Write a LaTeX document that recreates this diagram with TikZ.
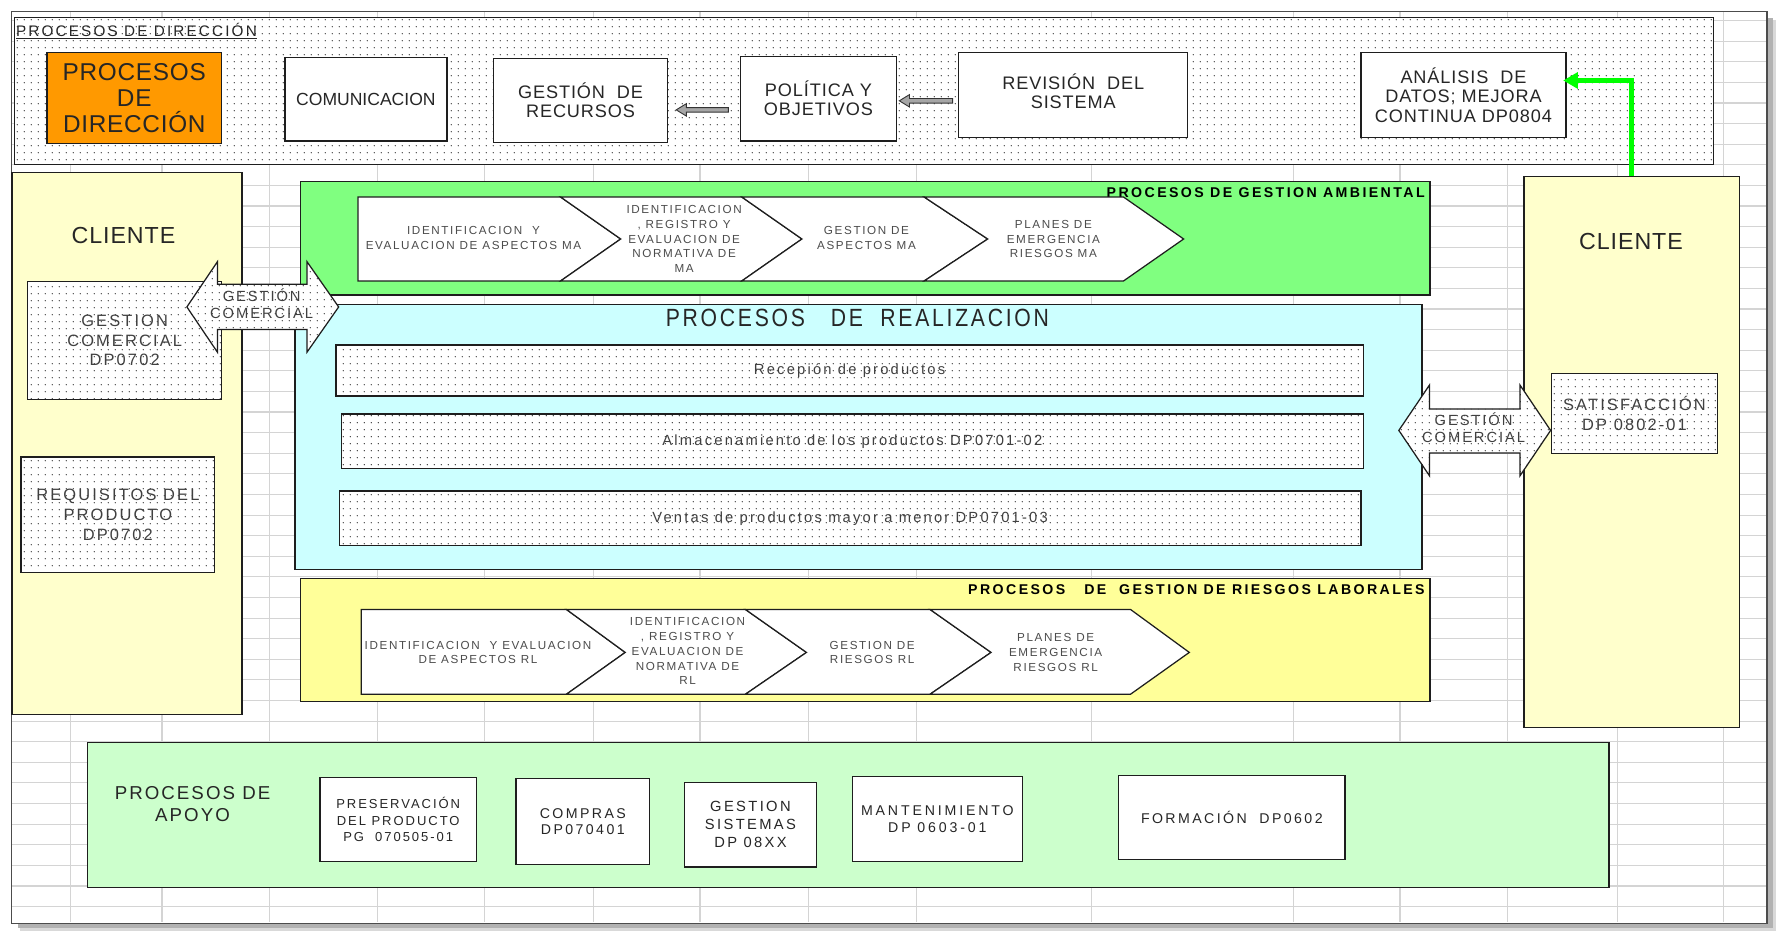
\documentclass[tikz,border=0pt]{standalone}
\usepackage{fontspec}
\setmainfont{Liberation Sans}
\newfontfamily\condensed[FakeStretch=0.85]{Liberation Sans}
\usetikzlibrary{patterns,arrows.meta,calc}

\definecolor{inkline}{RGB}{30,30,30}
\definecolor{gridgray}{RGB}{212,212,212}
\definecolor{dirorange}{RGB}{255,153,0}
\definecolor{clientyellow}{RGB}{255,255,204}
\definecolor{ambgreen}{RGB}{128,255,128}
\definecolor{realcyan}{RGB}{204,255,255}
\definecolor{riskyellow}{RGB}{255,255,153}
\definecolor{supportgreen}{RGB}{204,255,204}
\definecolor{brightgreen}{RGB}{0,255,0}

% sparse dot screen used for the stippled areas
\pgfdeclarepatternformonly{sparsedots}{\pgfpointorigin}{\pgfpoint{6.4pt}{6.4pt}}{\pgfpoint{6.4pt}{6.4pt}}{%
  \pgfpathcircle{\pgfpoint{3.2pt}{3.2pt}}{0.62pt}\pgfusepath{fill}}

% size, baseline skip, letter spacing
\newcommand\fs[3]{\fontsize{#1}{#2}\selectfont\addfontfeature{LetterSpace=#3}}

\begin{document}
\begin{tikzpicture}[x=1pt,y=-1pt,
  ink/.style={draw=inkline,line width=1.1pt},
  plainbox/.style={ink,anchor=north west,inner sep=0pt,align=center},
  whitebox/.style={plainbox,fill=white,text=black!85},
  dotbox/.style={plainbox,preaction={fill=white},pattern=sparsedots,pattern color=black!85,text=black!75},
  gridline/.style={draw=gridgray,line width=1pt},
  chevron/.style={ink,fill=white},
  chevtext/.style={align=center,text=black!70,inner sep=0pt,font=\fs{10.3}{13}{14}},
  bandtitle/.style={anchor=east,inner sep=0pt,font=\bfseries\fs{12.5}{13}{17}},
  topfont/.style={font=\fs{16}{17}{5}},
  dotfont/.style={font=\fs{14.5}{17.5}{13}},
  barfont/.style={font=\fs{13}{14}{15}},
  supfont/.style={font=\fs{12.5}{14.5}{17}},
  bigword/.style={inner sep=0pt,text=black!85,font=\fs{20.5}{22}{4}},
  blockarrow/.style={draw=black!80,line width=0.8pt,fill=black!35},
  dblarrow/.style={ink,preaction={fill=white},pattern=sparsedots,pattern color=black!85},
  arrowtext/.style={align=center,inner sep=0pt,text=black!75,font=\fs{13}{15}{13}},
  greenlink/.style={draw=brightgreen,line width=4pt,-{Triangle[length=13pt,width=14pt]}}
]
\useasboundingbox (0,0) rectangle (1568,822);

% sheet grid
\foreach \gx in {62,143,238,333,428,524,618,714,809,964,1142,1236,1331,1428,1522}
  \draw[gridline] (\gx,11) -- (\gx,814);
\foreach \k in {1,...,44}
  \draw[gridline] (11,18.19*\k) -- (1559,18.19*\k);

% sheet frame with its drop shadow
\fill[black!15] (18,815) rectangle (1568,822);
\fill[black!15] (1560,18) rectangle (1568,822);
\fill[black!30] (16,815) rectangle (1565,819);
\fill[black!30] (1560,16) rectangle (1565,819);
\draw[draw=black!70,line width=1.1pt] (10,10) rectangle (1560,815);

% management processes
\node[dotbox,minimum width=1500,minimum height=130] (dirband) at (12,15) {};
\node[anchor=west,inner sep=0pt,text=black!85,font=\fs{13.5}{14}{14}] (dirtitle) at (14,26) {PROCESOS DE DIRECCIÓN};
\draw[black!85,line width=0.8pt] ($(dirtitle.base west)+(0,2.5)$) -- ($(dirtitle.base east)+(0,2.5)$);

\node[plainbox,fill=dirorange,text=black!85,minimum width=154,minimum height=80,font=\fs{21.5}{23}{3}] (dirbox) at (41,46) {PROCESOS\\DE\\DIRECCIÓN};
\node[whitebox,font=\fs{15.5}{17}{0},minimum width=143,minimum height=74] (comunic) at (251,50) {COMUNICACION};
\node[whitebox,topfont,minimum width=154,minimum height=74] (recursos) at (435,51) {GESTIÓN\ \ DE\\RECURSOS};
\node[whitebox,topfont,minimum width=138,minimum height=75] (politica) at (653,49) {POLÍTICA Y\\OBJETIVOS};
\node[whitebox,topfont,minimum width=202,minimum height=75] (revision) at (846,46) {REVISIÓN\ \ DEL\\SISTEMA\\[-10pt]};
\node[whitebox,topfont,minimum width=181,minimum height=75] (analisis) at (1201,46) {ANÁLISIS\ \ DE\\DATOS; MEJORA\\CONTINUA DP0804};

% hollow flow arrows between the management boxes
\draw[blockarrow] (643,95) -- (606,95) -- (606,91.5) -- (597,97) -- (606,102.5) -- (606,99) -- (643,99) -- cycle;
\draw[blockarrow] (841,87) -- (803,87) -- (803,83.5) -- (794,89) -- (803,94.5) -- (803,91) -- (841,91) -- cycle;

% customer columns
\node[plainbox,fill=clientyellow,minimum width=203,minimum height=478] (cliL) at (10,152) {};
\node[bigword] (cliLtxt) at (109,208) {CLIENTE};
\node[dotbox,dotfont,minimum width=171,minimum height=104] (gcomL) at (24,248) {GESTION\\COMERCIAL\\DP0702};
\node[dotbox,dotfont,minimum width=171,minimum height=102] (reqL) at (18,403) {REQUISITOS DEL\\PRODUCTO\\DP0702};

\node[plainbox,fill=clientyellow,minimum width=190,minimum height=487] (cliR) at (1345,155) {};
\node[bigword] (cliRtxt) at (1440,213) {CLIENTE};
\node[dotbox,dotfont,minimum width=147,minimum height=71] (satisf) at (1369,329) {SATISFACCIÓN\\DP 0802-01};

% environmental management
\node[plainbox,fill=ambgreen,minimum width=997,minimum height=100] (ambband) at (265,160) {};
\node[bandtitle] (ambtitle) at (1258,170) {PROCESOS DE GESTION AMBIENTAL};
\draw[chevron] (316,174) -- (495,174) -- (548,211) -- (495,248) -- (316,248) -- cycle;
\draw[chevron] (495,174) -- (655,174) -- (708,211) -- (655,248) -- (495,248) -- (548,211) -- cycle;
\draw[chevron] (655,174) -- (816,174) -- (872,211) -- (816,248) -- (655,248) -- (708,211) -- cycle;
\draw[chevron] (816,174) -- (992,174) -- (1045,211) -- (992,248) -- (816,248) -- (872,211) -- cycle;
\node[chevtext] (ma1) at (418,210) {IDENTIFICACION\ \ Y\\EVALUACION DE ASPECTOS MA};
\node[chevtext] (ma2) at (604,211) {IDENTIFICACION\\, REGISTRO Y\\EVALUACION DE\\NORMATIVA DE\\MA};
\node[chevtext] (ma3) at (765,210) {GESTION DE\\ASPECTOS MA};
\node[chevtext] (ma4) at (930,211) {PLANES DE\\EMERGENCIA\\RIESGOS MA};

% realization processes
\node[plainbox,fill=realcyan,minimum width=995,minimum height=234] (realband) at (260,268) {};
\node[inner sep=0pt,text=black!85,font=\condensed\fs{22}{24}{11}] (realtitle) at (757,281) {PROCESOS\ \ \ DE\ \ REALIZACION};
\node[dotbox,barfont,minimum width=907,minimum height=45] (recep) at (296,304) {Recepión de productos};
\node[dotbox,barfont,minimum width=902,minimum height=48] (almac) at (301,365) {Almacenamiento de los productos DP0701-02};
\node[dotbox,barfont,minimum width=902,minimum height=48] (ventas) at (299,433) {Ventas de productos mayor a menor DP0701-03};

% occupational risk management
\node[plainbox,fill=riskyellow,minimum width=997,minimum height=109] (riskband) at (265,510) {};
\node[bandtitle] (risktitle) at (1258,521) {PROCESOS\ \ \ DE\ \ GESTION DE RIESGOS LABORALES};
\draw[chevron] (319,538) -- (500,538) -- (552,576) -- (500,613) -- (319,613) -- cycle;
\draw[chevron] (500,538) -- (658,538) -- (712,576) -- (658,613) -- (500,613) -- (552,576) -- cycle;
\draw[chevron] (658,538) -- (821,538) -- (875,576) -- (821,613) -- (658,613) -- (712,576) -- cycle;
\draw[chevron] (821,538) -- (998,538) -- (1050,576) -- (998,613) -- (821,613) -- (875,576) -- cycle;
\node[chevtext] (rl1) at (422,576) {IDENTIFICACION\ \ Y EVALUACION\\DE ASPECTOS RL};
\node[chevtext] (rl2) at (607,575) {IDENTIFICACION\\, REGISTRO Y\\EVALUACION DE\\NORMATIVA DE\\RL};
\node[chevtext] (rl3) at (770,576) {GESTION DE\\RIESGOS RL};
\node[chevtext] (rl4) at (932,576) {PLANES DE\\EMERGENCIA\\RIESGOS RL};

% commercial management links to the customers
\draw[dblarrow] (165,271) -- (192,231) -- (192,251) -- (271,251) -- (271,231) -- (299,271)
  -- (271,311) -- (271,291) -- (192,291) -- (192,311) -- cycle;
\node[arrowtext] (gcL) at (231,268) {GESTIÓN\\COMERCIAL};
\draw[dblarrow] (1235,380) -- (1262,340) -- (1262,361) -- (1342,361) -- (1342,340) -- (1369,380)
  -- (1342,420) -- (1342,400) -- (1262,400) -- (1262,420) -- cycle;
\node[arrowtext] (gcR) at (1301,378) {GESTIÓN\\COMERCIAL};

% feedback from customer satisfaction to data analysis
\draw[greenlink,shorten >=-3pt] (cliR.north) |- ([yshift=13pt]analisis.east);

% support processes
\node[plainbox,fill=supportgreen,minimum width=1343,minimum height=128] (apoyo) at (77,655) {};
\node[align=center,inner sep=0pt,text=black!85,font=\fs{16.5}{19}{11}] (apoyotitle) at (170,710) {PROCESOS DE\\APOYO};
\node[whitebox,font=\fs{11.5}{14.5}{15},minimum width=138,minimum height=74] (preserv) at (282,686) {PRESERVACIÓN\\DEL PRODUCTO\\PG\ \ 070505-01};
\node[whitebox,supfont,minimum width=118,minimum height=76] (compras) at (455,687) {COMPRAS\\DP070401};
\node[whitebox,font=\fs{13}{16}{16},minimum width=116,minimum height=75] (gsist) at (604,690) {GESTION\\SISTEMAS\\DP 08XX};
\node[whitebox,font=\fs{12.5}{15}{20},minimum width=150,minimum height=75] (mant) at (752,685) {MANTENIMIENTO\\DP 0603-01};
\node[whitebox,supfont,minimum width=200,minimum height=74] (formac) at (987,684) {FORMACIÓN\ \ DP0602};
\end{tikzpicture}
\end{document}
